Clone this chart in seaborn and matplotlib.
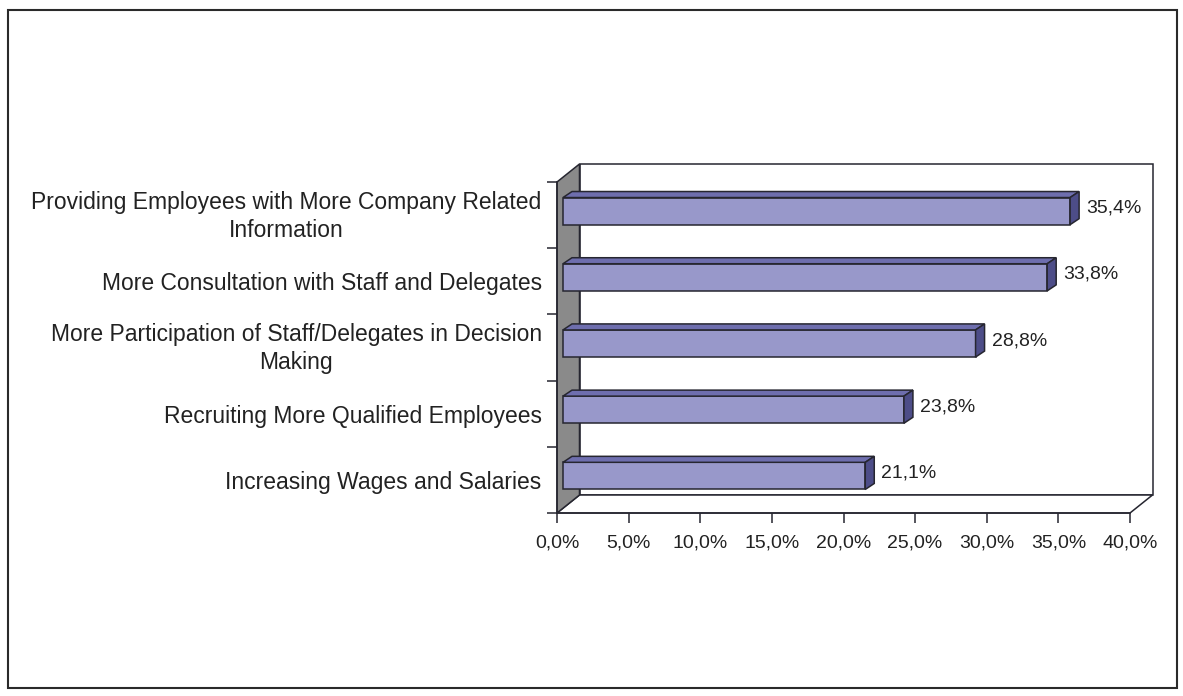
import numpy as np
import pandas as pd
import matplotlib
matplotlib.use("Agg")
import matplotlib.pyplot as plt
import matplotlib.transforms as mtransforms
import seaborn as sns
from matplotlib.patches import Polygon, Rectangle

# ---- data ----
categories = [
    "Providing Employees with More Company Related\nInformation",
    "More Consultation with Staff and Delegates",
    "More Participation of Staff/Delegates in Decision\nMaking",
    "Recruiting More Qualified Employees",
    "Increasing Wages and Salaries",
]
values = [35.4, 33.8, 28.8, 23.8, 21.1]
x_ticks = [0, 5, 10, 15, 20, 25, 30, 35, 40]

sns.set_theme(style="white")
plt.rcParams["font.family"] = ["Liberation Sans", "DejaVu Sans"]

W, H = 1183, 696
fig = plt.figure(figsize=(W / 100, H / 100), dpi=100)

# front plane of the 3D chart (pixel coords)
x0p, x1p, ytp, ybp = 557, 1130, 182, 513
ax = fig.add_axes([x0p / W, 1 - ybp / H, (x1p - x0p) / W, (ybp - ytp) / H])
ax.patch.set_visible(False)

df = pd.DataFrame({"category": categories, "value": values})
front_c, top_c, side_c, edge_c = "#9898CA", "#6E6EAE", "#4D4D88", "#262630"
sns.barplot(data=df, x="value", y="category", orient="h", ax=ax, width=0.41,
            color=front_c, saturation=1, edgecolor=edge_c, linewidth=1.1, zorder=5)
bars = list(ax.patches)

ax.set_xlim(0, 40)
ax.set_ylim(len(categories) - 0.5, -0.5)

# pixel -> data conversion
p0 = ax.transData.transform((0, 0))
p1 = ax.transData.transform((1, 1))
sx = p1[0] - p0[0]
sy = p1[1] - p0[1]
def dxp(px):
    return px / sx
def dyp(px_up):
    return px_up / sy

# walls
wdx, wdy = 22.5, 18  # depth offset in pixels (right, up)
ax_w = x1p - x0p
ax_h = ybp - ytp
adx, ady = wdx / ax_w, wdy / ax_h
wall_lw = 1.1
back = Polygon([(adx, ady), (1 + adx, ady), (1 + adx, 1 + ady), (adx, 1 + ady)],
               closed=True, transform=ax.transAxes, facecolor="white",
               edgecolor=edge_c, linewidth=wall_lw, clip_on=False, zorder=1)
floor = Polygon([(0, 0), (1, 0), (1 + adx, ady), (adx, ady)], closed=True,
                transform=ax.transAxes, facecolor="white", edgecolor=edge_c,
                linewidth=wall_lw, clip_on=False, zorder=1.5)
side = Polygon([(0, 0), (adx, ady), (adx, 1 + ady), (0, 1)], closed=True,
               transform=ax.transAxes, facecolor="#8A8A8A", edgecolor=edge_c,
               linewidth=wall_lw, clip_on=False, zorder=2)
for p in (back, floor, side):
    ax.add_patch(p)

# 3D bars
fo_x, fo_y = 6, 4      # front-face offset (px right, px up)
bd_x, bd_y = 9, 6      # bar depth (px right, px up)
for bar, v in zip(bars, values):
    bar.set_x(bar.get_x() + dxp(fo_x))
    bar.set_y(bar.get_y() + dyp(fo_y))
    xl = bar.get_x()
    xr = xl + bar.get_width()
    yt = bar.get_y()              # top in data (inverted axis)
    yb = yt + bar.get_height()
    ddx, ddy = dxp(bd_x), dyp(bd_y)
    top = Polygon([(xl, yt), (xr, yt), (xr + ddx, yt + ddy), (xl + ddx, yt + ddy)],
                  closed=True, facecolor=top_c, edgecolor=edge_c, linewidth=1.1,
                  clip_on=False, zorder=5)
    sidef = Polygon([(xr, yt), (xr + ddx, yt + ddy), (xr + ddx, yb + ddy), (xr, yb)],
                    closed=True, facecolor=side_c, edgecolor=edge_c, linewidth=1.1,
                    clip_on=False, zorder=5)
    ax.add_patch(top)
    ax.add_patch(sidef)
    yc = (yt + yb) / 2 + dyp(3)
    ax.text(xr + dxp(16), yc, f"{v:.1f}%".replace(".", ","), fontsize=14,
            color="#222222", va="center", ha="left", zorder=6)

# axes styling
for s in ("top", "right"):
    ax.spines[s].set_visible(False)
for s in ("left", "bottom"):
    ax.spines[s].set_color(edge_c)
    ax.spines[s].set_linewidth(1.1)
    ax.spines[s].set_zorder(3)

ax.set_xticks(x_ticks, labels=[f"{t:.1f}%".replace(".", ",") for t in x_ticks])
ax.tick_params(axis="x", direction="out", length=7.5, width=1.1, color=edge_c,
               labelsize=14, labelcolor="#222222", pad=8, bottom=True)
ax.set_yticks(range(len(categories)), labels=categories, multialignment="center",
              linespacing=1.3)
ax.set_yticks(np.arange(-0.5, len(categories), 1.0), minor=True)
ax.tick_params(axis="y", which="major", length=0, labelsize=16.5,
               labelcolor="#222222", pad=11)
ax.tick_params(axis="y", which="minor", direction="out", length=7.5, width=1.1,
               color=edge_c, left=True)
ax.set_xlabel("")
ax.set_ylabel("")

# nudge two-line labels up slightly
shift = mtransforms.ScaledTranslation(0, 0.04, fig.dpi_scale_trans)
for lab in ax.get_yticklabels():
    if "\n" in lab.get_text():
        lab.set_transform(lab.get_transform() + shift)

# outer frame
fig.patches.append(Rectangle((7.5 / W, 1 - 688 / H), (1177 - 7.5) / W, (688 - 10) / H,
                             transform=fig.transFigure, fill=False,
                             edgecolor="#2a2a2a", linewidth=1.5))

fig.savefig("out.png", dpi=100)
